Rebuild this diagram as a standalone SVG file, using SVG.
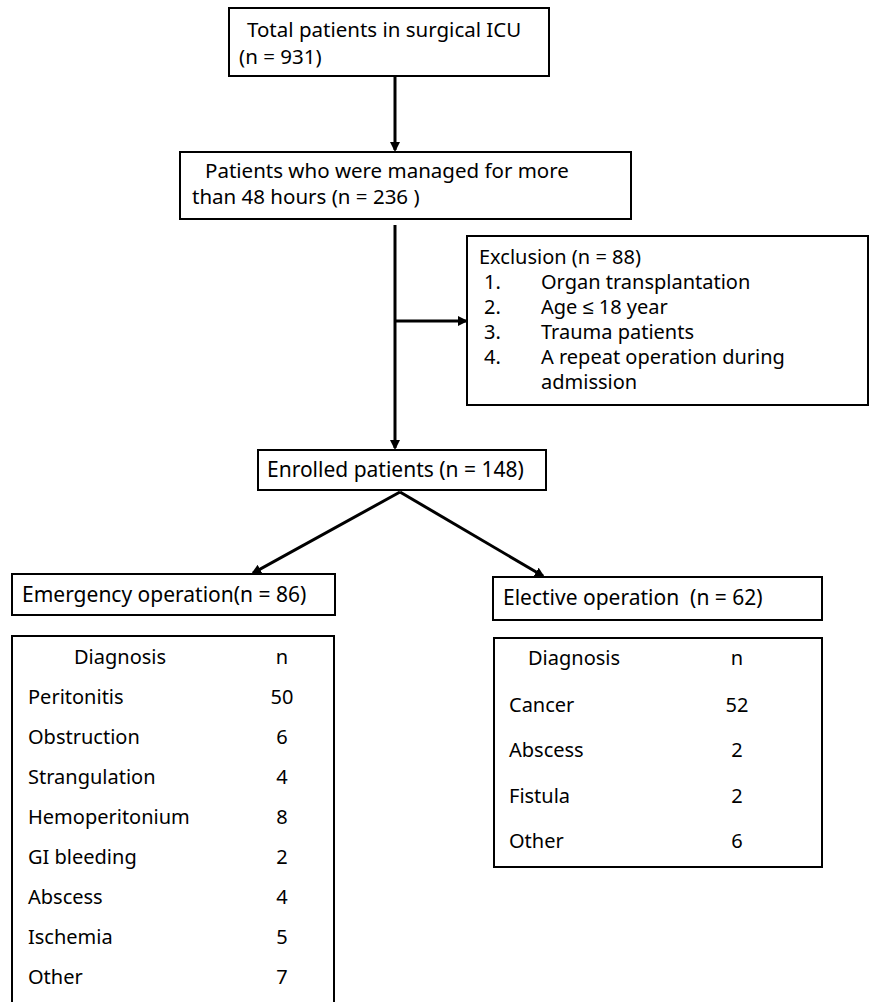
<svg xmlns="http://www.w3.org/2000/svg" width="869" height="1002" viewBox="0 0 869 1002">
<defs>
<style>
.box{fill:#fff;stroke:#000;stroke-width:2}
.t{font-family:"Noto Sans","Liberation Sans",sans-serif;font-size:20px;fill:#000}
.big{font-size:20.5px}
.mid{font-size:21px}
.num{text-anchor:middle}
.ln{stroke:#000;stroke-width:3;fill:none}
</style>
<marker id="ah" markerWidth="10" markerHeight="10" refX="8" refY="5" orient="auto" markerUnits="userSpaceOnUse" viewBox="0 0 10 10">
<path d="M0,0 L10,5 L0,10 Z" fill="#000"/>
</marker>
</defs>
<rect width="869" height="1002" fill="#fff"/>
<g id="connectors">
<line class="ln" x1="395" y1="68" x2="395" y2="150" marker-end="url(#ah)"/>
<line class="ln" x1="395" y1="225" x2="395" y2="448" marker-end="url(#ah)"/>
<line class="ln" x1="395" y1="321" x2="466" y2="321" marker-end="url(#ah)"/>
<line class="ln" x1="400" y1="492" x2="253" y2="573" marker-end="url(#ah)"/>
<line class="ln" x1="400" y1="492" x2="543" y2="576" marker-end="url(#ah)"/>
</g>
<g id="total">
<rect class="box" x="229" y="8" width="320" height="68"/>
<text class="t big" x="247" y="37">Total patients in surgical ICU</text>
<text class="t big" x="239" y="64">(n = 931)</text>
</g>
<g id="managed">
<rect class="box" x="180" y="152" width="451" height="67"/>
<text class="t big" x="205" y="178">Patients who were managed for more</text>
<text class="t big" x="192" y="204">than 48 hours (n = 236 )</text>
</g>
<g id="exclusion">
<rect class="box" x="467" y="236" width="401" height="169"/>
<text class="t" x="479" y="264">Exclusion (n = 88)</text>
<text class="t" x="484" y="289">1.</text><text class="t" x="541" y="289">Organ transplantation</text>
<text class="t" x="484" y="314">2.</text><text class="t" x="541" y="314">Age ≤ 18 year</text>
<text class="t" x="484" y="339">3.</text><text class="t" x="541" y="339">Trauma patients</text>
<text class="t" x="484" y="364">4.</text><text class="t" x="541" y="364">A repeat operation during</text>
<text class="t" x="541" y="389">admission</text>
</g>
<g id="enrolled">
<rect class="box" x="258" y="450" width="288" height="40"/>
<text class="t mid" x="267" y="477">Enrolled patients (n = 148)</text>
</g>
<g id="emergency">
<rect class="box" x="12" y="574" width="323" height="41"/>
<text class="t mid" x="22" y="602">Emergency operation(n = 86)</text>
</g>
<g id="elective">
<rect class="box" x="493" y="577" width="329" height="43"/>
<text class="t mid" x="503" y="605" xml:space="preserve">Elective operation  (n = 62)</text>
</g>
<g id="emergency-table">
<rect class="box" x="12" y="636" width="322" height="380"/>
<text class="t" x="74" y="664">Diagnosis</text><text class="t num" x="282" y="664">n</text>
<text class="t" x="28" y="704">Peritonitis</text><text class="t num" x="282" y="704">50</text>
<text class="t" x="28" y="744">Obstruction</text><text class="t num" x="282" y="744">6</text>
<text class="t" x="28" y="784">Strangulation</text><text class="t num" x="282" y="784">4</text>
<text class="t" x="28" y="824">Hemoperitonium</text><text class="t num" x="282" y="824">8</text>
<text class="t" x="28" y="864">GI bleeding</text><text class="t num" x="282" y="864">2</text>
<text class="t" x="28" y="904">Abscess</text><text class="t num" x="282" y="904">4</text>
<text class="t" x="28" y="944">Ischemia</text><text class="t num" x="282" y="944">5</text>
<text class="t" x="28" y="984">Other</text><text class="t num" x="282" y="984">7</text>
</g>
<g id="elective-table">
<rect class="box" x="494" y="638" width="328" height="229"/>
<text class="t" x="528" y="665">Diagnosis</text><text class="t num" x="737" y="665">n</text>
<text class="t" x="509" y="712">Cancer</text><text class="t num" x="737" y="712">52</text>
<text class="t" x="509" y="757">Abscess</text><text class="t num" x="737" y="757">2</text>
<text class="t" x="509" y="803">Fistula</text><text class="t num" x="737" y="803">2</text>
<text class="t" x="509" y="848">Other</text><text class="t num" x="737" y="848">6</text>
</g>
</svg>
